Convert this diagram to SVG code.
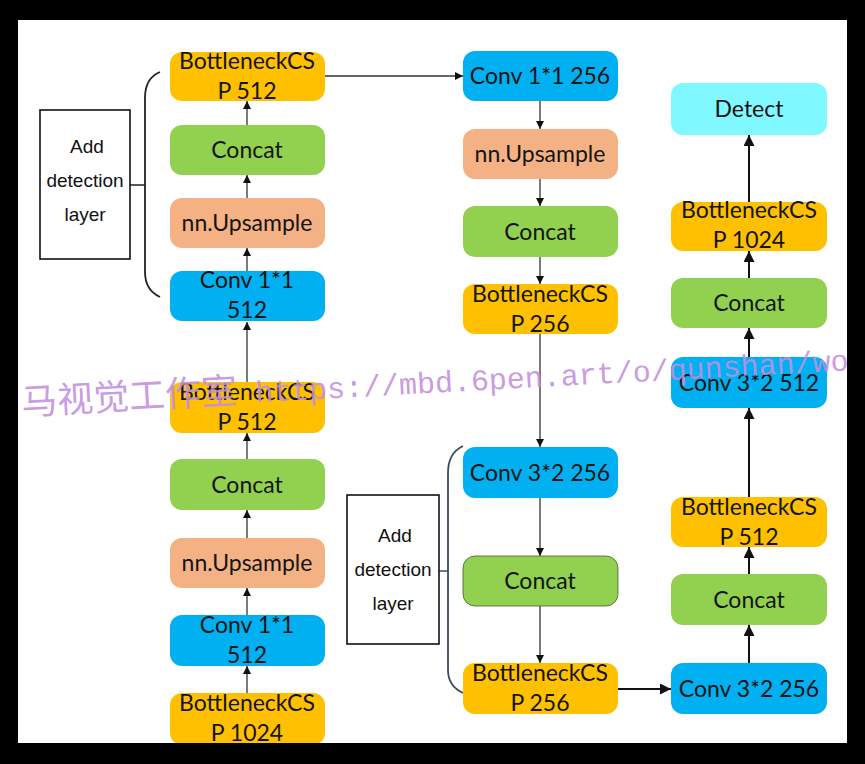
<svg xmlns="http://www.w3.org/2000/svg" width="865" height="764" viewBox="0 0 865 764">
<defs>
<style>
.n{stroke:none}
.bot{fill:#FFC000}
.con{fill:#92D050}
.up{fill:#F4B183}
.cv{fill:#00B0F0}
.det{fill:#80F8FF}
.t{font-family:Lato,"Open Sans",sans-serif;font-size:23px;fill:#141414;text-anchor:middle}
.lab{font-family:"Liberation Sans",Arial,sans-serif;font-size:19px;fill:#111;text-anchor:middle}
.c{stroke:#333;stroke-width:1.3;fill:none}
.c2{stroke:#111;stroke-width:2;fill:none}
.wm{font-family:"Noto Sans CJK SC",sans-serif;font-size:36px;fill:#c28ee0}
.wml{font-family:"Liberation Mono",monospace;font-size:30px}
</style>
<marker id="ah" viewBox="0 0 10 10" refX="10" refY="5" markerWidth="8" markerHeight="8" markerUnits="userSpaceOnUse" orient="auto">
<path d="M0,0 L10,5 L0,10 Z" fill="#111"/>
</marker>
<marker id="ah2" viewBox="0 0 10 10" refX="10" refY="5" markerWidth="5.5" markerHeight="5.5" orient="auto">
<path d="M0,0 L10,5 L0,10 Z" fill="#111"/>
</marker>
<clipPath id="cl"><rect x="18" y="20" width="829" height="723"/></clipPath>
</defs>
<rect x="0" y="0" width="865" height="764" fill="#000"/>
<rect x="18" y="20" width="829" height="723" fill="#fff"/>
<g clip-path="url(#cl)">
<g id="connectors">
<line class="c" x1="247" y1="693" x2="247" y2="666" marker-end="url(#ah)"/>
<line class="c" x1="247" y1="615" x2="247" y2="588" marker-end="url(#ah)"/>
<line class="c" x1="247" y1="538" x2="247" y2="510" marker-end="url(#ah)"/>
<line class="c" x1="247" y1="459" x2="247" y2="433" marker-end="url(#ah)"/>
<line class="c" x1="247" y1="382" x2="247" y2="322" marker-end="url(#ah)"/>
<line class="c" x1="247" y1="271" x2="247" y2="248" marker-end="url(#ah)"/>
<line class="c" x1="247" y1="198" x2="247" y2="175" marker-end="url(#ah)"/>
<line class="c" x1="247" y1="125" x2="247" y2="101" marker-end="url(#ah)"/>
<line class="c" x1="325" y1="76" x2="463" y2="76" marker-end="url(#ah)"/>
<line class="c" x1="540" y1="101" x2="540" y2="129" marker-end="url(#ah)"/>
<line class="c" x1="540" y1="179" x2="540" y2="206" marker-end="url(#ah)"/>
<line class="c" x1="540" y1="257" x2="540" y2="284" marker-end="url(#ah)"/>
<line class="c" x1="540" y1="334" x2="540" y2="447" marker-end="url(#ah)"/>
<line class="c" x1="540" y1="498" x2="540" y2="556" marker-end="url(#ah)"/>
<line class="c" x1="540" y1="606" x2="540" y2="663" marker-end="url(#ah)"/>
<line class="c2" x1="618" y1="689" x2="671" y2="689" marker-end="url(#ah2)"/>
<line class="c2" x1="749" y1="663" x2="749" y2="625" marker-end="url(#ah2)"/>
<line class="c2" x1="749" y1="574" x2="749" y2="547" marker-end="url(#ah2)"/>
<line class="c2" x1="749" y1="497" x2="749" y2="408" marker-end="url(#ah2)"/>
<line class="c2" x1="749" y1="357" x2="749" y2="328" marker-end="url(#ah2)"/>
<line class="c2" x1="749" y1="278" x2="749" y2="251" marker-end="url(#ah2)"/>
<line class="c2" x1="749" y1="202" x2="749" y2="135" marker-end="url(#ah2)"/>
<path d="M160,72 Q145,78 145,98 L145,272 Q145,290 160,297" fill="none" stroke="#222" stroke-width="1.8"/>
<line x1="145" y1="185" x2="130" y2="185" stroke="#222" stroke-width="1.5"/>
<path d="M463,446 Q448,453 448,473 L448,670 Q448,686 463,693" fill="none" stroke="#3e4b5e" stroke-width="1.8"/>
<line x1="448" y1="571" x2="439" y2="571" stroke="#3e4b5e" stroke-width="1.5"/>
</g>
<g id="add1"><rect x="40" y="110" width="90" height="149" fill="#fff" stroke="#111" stroke-width="1.6"/>
<text class="lab" x="87" y="153">Add</text><text class="lab" x="85" y="187">detection</text><text class="lab" x="85" y="221">layer</text></g>
<g id="add2"><rect x="347" y="495" width="92" height="149" fill="#fff" stroke="#111" stroke-width="1.6"/>
<text class="lab" x="395" y="542">Add</text><text class="lab" x="393" y="576">detection</text><text class="lab" x="393" y="610">layer</text></g>

<g id="l_bcsp512a"><rect class="bot" x="170" y="52" width="155" height="49" rx="12"/><text class="t" x="247" y="69">BottleneckCS</text><text class="t" x="247" y="99">P 512</text></g>
<g id="l_concat_a"><rect class="con" x="170" y="125" width="155" height="50" rx="12"/><text class="t" x="247" y="158">Concat</text></g>
<g id="l_up_a"><rect class="up" x="170" y="198" width="155" height="50" rx="12"/><text class="t" x="247" y="231">nn.Upsample</text></g>
<g id="l_conv_a"><rect class="cv" x="170" y="271" width="155" height="50" rx="12"/><text class="t" x="247" y="288">Conv 1*1</text><text class="t" x="247" y="318">512</text></g>
<g id="l_bcsp512b"><rect class="bot" x="170" y="382" width="155" height="51" rx="12"/><text class="t" x="247" y="400">BottleneckCS</text><text class="t" x="247" y="430">P 512</text></g>
<g id="l_concat_b"><rect class="con" x="170" y="459" width="155" height="51" rx="12"/><text class="t" x="247" y="493">Concat</text></g>
<g id="l_up_b"><rect class="up" x="170" y="538" width="155" height="50" rx="12"/><text class="t" x="247" y="571">nn.Upsample</text></g>
<g id="l_conv_b"><rect class="cv" x="170" y="615" width="155" height="51" rx="12"/><text class="t" x="247" y="633">Conv 1*1</text><text class="t" x="247" y="663">512</text></g>
<g id="l_bcsp1024"><rect class="bot" x="170" y="693" width="155" height="52" rx="12"/><text class="t" x="247" y="711">BottleneckCS</text><text class="t" x="247" y="741">P 1024</text></g>

<g id="m_conv256"><rect class="cv" x="463" y="51" width="155" height="50" rx="12"/><text class="t" x="540" y="84">Conv 1*1 256</text></g>
<g id="m_up"><rect class="up" x="463" y="129" width="155" height="50" rx="12"/><text class="t" x="540" y="162">nn.Upsample</text></g>
<g id="m_concat_a"><rect class="con" x="463" y="206" width="155" height="51" rx="12"/><text class="t" x="540" y="240">Concat</text></g>
<g id="m_bcsp256a"><rect class="bot" x="463" y="284" width="155" height="50" rx="12"/><text class="t" x="540" y="302">BottleneckCS</text><text class="t" x="540" y="332">P 256</text></g>
<g id="m_conv32"><rect class="cv" x="463" y="447" width="155" height="51" rx="12"/><text class="t" x="540" y="481">Conv 3*2 256</text></g>
<g id="m_concat_b"><rect class="con" x="463" y="556" width="155" height="50" rx="12" stroke="#4a5a3a" stroke-width="0.8"/><text class="t" x="540" y="589">Concat</text></g>
<g id="m_bcsp256b"><rect class="bot" x="463" y="663" width="155" height="51" rx="12"/><text class="t" x="540" y="681">BottleneckCS</text><text class="t" x="540" y="711">P 256</text></g>

<g id="r_detect"><rect class="det" x="671" y="83" width="156" height="52" rx="12"/><text class="t" x="749" y="117">Detect</text></g>
<g id="r_bcsp1024"><rect class="bot" x="671" y="202" width="156" height="49" rx="12"/><text class="t" x="749" y="218">BottleneckCS</text><text class="t" x="749" y="248">P 1024</text></g>
<g id="r_concat_a"><rect class="con" x="671" y="278" width="156" height="50" rx="12"/><text class="t" x="749" y="311">Concat</text></g>
<g id="r_conv512"><rect class="cv" x="671" y="357" width="156" height="51" rx="12"/><text class="t" x="749" y="391">Conv 3*2 512</text></g>
<g id="r_bcsp512"><rect class="bot" x="671" y="497" width="156" height="50" rx="12"/><text class="t" x="749" y="515">BottleneckCS</text><text class="t" x="749" y="545">P 512</text></g>
<g id="r_concat_b"><rect class="con" x="671" y="574" width="156" height="51" rx="12"/><text class="t" x="749" y="608">Concat</text></g>
<g id="r_conv256"><rect class="cv" x="671" y="663" width="156" height="51" rx="12"/><text class="t" x="749" y="697">Conv 3*2 256</text></g>

<text class="wm" x="22" y="415" transform="rotate(-3.1 22 415)" fill-opacity="0.9">马视觉工作室<tspan class="wml"> https://mbd.6pen.art/o/qunshan/wo</tspan></text>
</g>
</svg>
